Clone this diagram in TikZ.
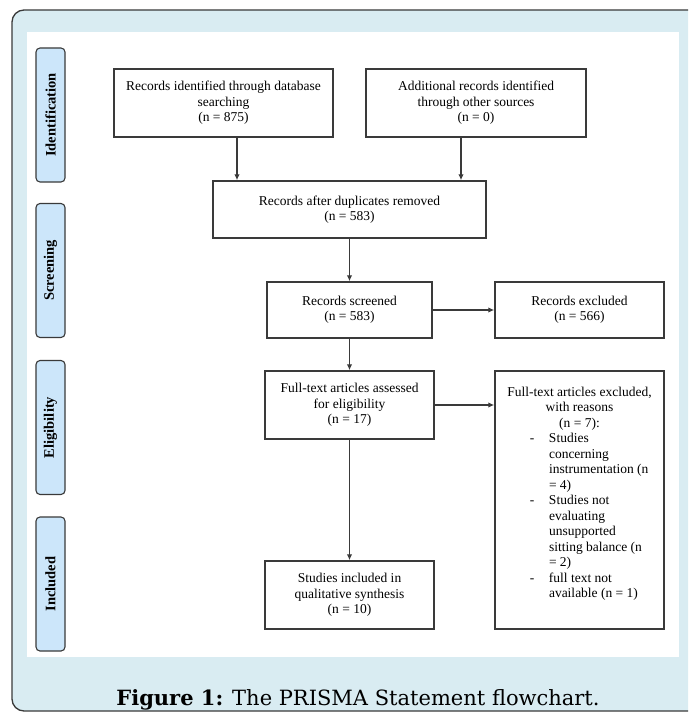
\documentclass[tikz,border=0pt]{standalone}
\usepackage{fontspec}
\setmainfont{Liberation Serif}
\newfontfamily\capfont{DejaVu Serif}
\usetikzlibrary{arrows.meta}

\definecolor{panelblue}{HTML}{D9ECF2}
\definecolor{tabblue}{HTML}{CCE6FA}
\definecolor{linegray}{HTML}{3A3A3A}

% list lines in the exclusion box
\newcommand{\exitem}[1]{\makebox[129pt][l]{\makebox[34pt][c]{-}#1}}
\newcommand{\excont}[1]{\makebox[129pt][l]{\hspace{34pt}#1}}

\tikzset{
  flowbox/.style={draw=linegray,line width=1.5pt,fill=white,align=center,inner sep=0pt,
    font=\fontsize{13.5}{15.5}\selectfont},
  phasetab/.style={draw=linegray,line width=1.1pt,fill=tabblue,rounded corners=4pt,
    minimum width=134pt,minimum height=29pt,inner sep=0pt,rotate=90,
    font=\fontsize{14.5}{16}\selectfont\bfseries},
  flowarrow/.style={draw=linegray,line width=1.5pt,-{Latex[length=6pt,width=5.5pt]}},
}

\begin{document}
\begin{tikzpicture}[x=1pt,y=-1pt]
    \useasboundingbox (0,0) rectangle (688,717);
    \clip (0,0) rectangle (688,717);
    % panel
    \filldraw[fill=panelblue,draw=linegray,line width=1.3pt,rounded corners=12pt](12,10) rectangle (730,711);
    \fill[white](27,32) rectangle (679,657);
    % phases
    \node[phasetab] (identtab) at (50.5,115) {Identification};
    \node[phasetab] (screentab) at (50.5,270.5) {Screening};
    \node[phasetab] (eligtab) at (50.5,427.5) {Eligibility};
    \node[phasetab] (incltab) at (50.5,584) {Included};
    % boxes
    \node[flowbox,minimum width=219pt,minimum height=68pt] (dbrec) at (223.5,103) {Records identified through database\\searching\\(n = 875)};
    \node[flowbox,minimum width=220pt,minimum height=68pt] (otherrec) at (476,103) {Additional records identified\\through other sources\\(n = 0)};
    \node[flowbox,minimum width=273pt,minimum height=57pt] (dedup) at (349.5,209.5) {Records after duplicates removed\\(n = 583)};
    \node[flowbox,minimum width=165pt,minimum height=56pt] (screened) at (349.5,310) {Records screened\\(n = 583)};
    \node[flowbox,minimum width=169pt,minimum height=56pt] (recexcl) at (579.5,310) {Records excluded\\(n = 566)};
    \node[flowbox,minimum width=169pt,minimum height=68pt] (fulltext) at (349.5,405) {Full-text articles assessed\\for eligibility\\(n = 17)};
    \node[flowbox,minimum width=169pt,minimum height=258pt] (ftexcl) at (579.5,500) {Full-text articles excluded,\\with reasons\\(n = 7):\hspace{18pt}\\
      \exitem{Studies}\\\excont{concerning}\\\excont{instrumentation (n}\\\excont{= 4)}\\
      \exitem{Studies not}\\\excont{evaluating}\\\excont{unsupported}\\\excont{sitting balance (n}\\\excont{= 2)}\\
      \exitem{full text not}\\\excont{available (n = 1)}\\\mbox{}};
    \node[flowbox,minimum width=169pt,minimum height=68pt] (included) at (349.5,595) {Studies included in\\qualitative synthesis\\(n = 10)};
    % arrows
    \draw[flowarrow]([xshift=13.5pt]dbrec.south) -- ([xshift=13.5pt]dbrec.south |- dedup.north);
    \draw[flowarrow]([xshift=-15pt]otherrec.south) -- ([xshift=-15pt]otherrec.south |- dedup.north);
    \draw[flowarrow](dedup) -- (screened);
    \draw[flowarrow](screened) -- (recexcl);
    \draw[flowarrow](screened) -- (fulltext);
    \draw[flowarrow](fulltext.east) -- (fulltext.east -| ftexcl.west);
    \draw[flowarrow](fulltext) -- (included);
    % caption
    \node[anchor=base,font=\capfont\fontsize{21}{24}\selectfont] (caption) at (358,705) {\textbf{Figure 1:} The PRISMA Statement flowchart.};
\end{tikzpicture}
\end{document}
